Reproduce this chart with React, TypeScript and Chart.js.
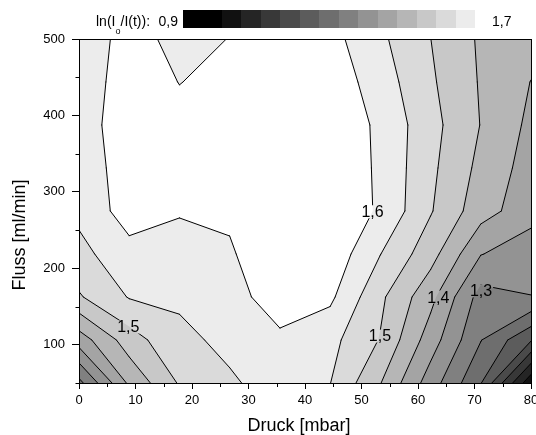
import React, { useEffect, useRef } from 'react';
import { Chart, registerables } from 'chart.js';

Chart.register(...registerables);

const FONT = '"Liberation Sans", Arial, sans-serif';

// measurement grid: pressure (mbar) and flow (ml/min)
const pressure = [0, 8.889, 17.778, 26.667, 35.556, 44.444, 53.333, 62.222, 71.111, 80];
const flow = [50, 106.25, 162.5, 218.75, 275, 331.25, 387.5, 443.75, 500];

// ln(I0/I(t)) for each pressure, one array per flow row
const flow50 = [1.235, 1.41, 1.505, 1.545, 1.566, 1.551, 1.452, 1.325, 1.203, 0.962];
const flow106 = [1.374, 1.476, 1.541, 1.559, 1.59, 1.565, 1.497, 1.375, 1.252, 1.155];
const flow163 = [1.495, 1.553, 1.556, 1.58, 1.626, 1.61, 1.51, 1.415, 1.28, 1.299];
const flow219 = [1.535, 1.583, 1.574, 1.5964, 1.624, 1.635, 1.551, 1.47, 1.352, 1.32];
const flow275 = [1.562, 1.623, 1.605, 1.605, 1.63, 1.634, 1.594, 1.504, 1.4208, 1.37];
const flow331 = [1.575, 1.621, 1.61, 1.62, 1.64, 1.637, 1.592, 1.511, 1.4366, 1.3785];
const flow388 = [1.58, 1.624, 1.607, 1.625, 1.64, 1.638, 1.59, 1.517, 1.4486, 1.3886];
const flow444 = [1.585, 1.613, 1.5995, 1.6066, 1.635, 1.631, 1.575, 1.5074, 1.4457, 1.399];
const flow500 = [1.585, 1.609, 1.593, 1.6005, 1.625, 1.617, 1.5596, 1.5004, 1.443, 1.42];
const rows = [flow50, flow106, flow163, flow219, flow275, flow331, flow388, flow444, flow500];

// colour bands (lower bound of each band) and their greys
const bandLower = [0.85, 0.9, 0.95, 1.0, 1.05, 1.1, 1.15, 1.2, 1.25, 1.3, 1.35, 1.4, 1.45, 1.5, 1.55, 1.6];
const bandColors = ['#000000', '#000000', '#111111', '#252525', '#383838', '#4a4a4a', '#5c5c5c', '#6e6e6e',
  '#808080', '#939393', '#a4a4a4', '#b6b6b6', '#c8c8c8', '#dadada', '#ececec', '#ffffff'];
const lineLevels = [0.95, 1.0, 1.05, 1.1, 1.15, 1.2, 1.25, 1.3, 1.35, 1.4, 1.45, 1.5, 1.55, 1.6];

// contour labels
const labelText = ['1,6', '1,5', '1,4', '1,3', '1,5'];
const labelX = [51.95, 53.27, 63.6, 71.15, 8.73];
const labelY = [274.1, 111.5, 162.5, 170.4, 123.3];

const xTicks = [0, 10, 20, 30, 40, 50, 60, 70, 80];
const yTicks = [100, 200, 300, 400, 500];
const xMinor = [5, 15, 25, 35, 45, 55, 65, 75];
const yMinor = [50, 150, 250, 350, 450];

const colorbarMin = '0,9';
const colorbarMax = '1,7';

type P = [number, number];

function cellPolygon(pts: P[], vals: number[], L: number): P[] {
  const out: P[] = [];
  for (let e = 0; e < 4; e++) {
    const a = pts[e], b = pts[(e + 1) % 4];
    const va = vals[e], vb = vals[(e + 1) % 4];
    if (va >= L) out.push(a);
    if ((va >= L) !== (vb >= L)) {
      const t = (L - va) / (vb - va);
      out.push([a[0] + t * (b[0] - a[0]), a[1] + t * (b[1] - a[1])]);
    }
  }
  return out;
}

function cellSegments(pts: P[], vals: number[], L: number): [P, P][] {
  const c: P[] = [];
  for (let e = 0; e < 4; e++) {
    const a = pts[e], b = pts[(e + 1) % 4];
    const va = vals[e], vb = vals[(e + 1) % 4];
    if ((va >= L) !== (vb >= L)) {
      const t = (L - va) / (vb - va);
      c.push([a[0] + t * (b[0] - a[0]), a[1] + t * (b[1] - a[1])]);
    }
  }
  if (c.length === 2) return [[c[0], c[1]]];
  if (c.length === 4) {
    const center = (vals[0] + vals[1] + vals[2] + vals[3]) / 4;
    if ((center >= L) === (vals[0] >= L)) return [[c[0], c[1]], [c[2], c[3]]];
    return [[c[3], c[0]], [c[1], c[2]]];
  }
  return [];
}

const contourPlugin = {
  id: 'contour',
  beforeDatasetsDraw(chart: any) {
    const { ctx, chartArea: a, scales } = chart;
    const xs = scales.x, ys = scales.y;
    const px = pressure.map((v) => xs.getPixelForValue(v));
    const py = flow.map((v) => ys.getPixelForValue(v));
    let vmin = Infinity, vmax = -Infinity;
    rows.forEach((r) => r.forEach((v) => { vmin = Math.min(vmin, v); vmax = Math.max(vmax, v); }));

    ctx.save();
    ctx.beginPath();
    ctx.rect(a.left, a.top, a.right - a.left, a.bottom - a.top);
    ctx.clip();

    let base = 0;
    for (let k = 0; k < bandLower.length; k++) if (bandLower[k] <= vmin) base = k;
    ctx.fillStyle = bandColors[base];
    ctx.fillRect(a.left, a.top, a.right - a.left, a.bottom - a.top);

    const cell = (i: number, j: number) => {
      const pts: P[] = [[px[i], py[j]], [px[i + 1], py[j]], [px[i + 1], py[j + 1]], [px[i], py[j + 1]]];
      const vals = [rows[j][i], rows[j][i + 1], rows[j + 1][i + 1], rows[j + 1][i]];
      return { pts, vals };
    };

    for (let k = base + 1; k < bandLower.length; k++) {
      const L = bandLower[k];
      if (L > vmax) break;
      ctx.beginPath();
      for (let j = 0; j < flow.length - 1; j++) {
        for (let i = 0; i < pressure.length - 1; i++) {
          const { pts, vals } = cell(i, j);
          const poly = cellPolygon(pts, vals, L);
          if (poly.length < 3) continue;
          ctx.moveTo(poly[0][0], poly[0][1]);
          for (let q = 1; q < poly.length; q++) ctx.lineTo(poly[q][0], poly[q][1]);
          ctx.closePath();
        }
      }
      ctx.fillStyle = bandColors[k];
      ctx.fill('nonzero');
    }

    // label boxes -> gaps in the lines
    ctx.font = `16px ${FONT}`;
    const boxes = labelText.map((t, n) => {
      const w = ctx.measureText(t).width;
      const cx = xs.getPixelForValue(labelX[n]);
      const cy = ys.getPixelForValue(labelY[n]);
      return { t, w, cx, cy };
    });

    ctx.save();
    ctx.beginPath();
    ctx.rect(a.left - 2, a.top - 2, a.right - a.left + 4, a.bottom - a.top + 4);
    boxes.forEach((b) => ctx.rect(b.cx - b.w / 2 - 1, b.cy - 6.5, b.w + 2, 13));
    ctx.clip('evenodd');
    ctx.beginPath();
    for (const L of lineLevels) {
      if (L < vmin || L > vmax) continue;
      for (let j = 0; j < flow.length - 1; j++) {
        for (let i = 0; i < pressure.length - 1; i++) {
          const { pts, vals } = cell(i, j);
          for (const [p, q] of cellSegments(pts, vals, L)) {
            ctx.moveTo(p[0], p[1]);
            ctx.lineTo(q[0], q[1]);
          }
        }
      }
    }
    ctx.strokeStyle = '#000';
    ctx.lineWidth = 1;
    ctx.lineCap = 'round';
    ctx.lineJoin = 'round';
    ctx.stroke();
    ctx.restore();

    ctx.fillStyle = '#000';
    ctx.textAlign = 'center';
    ctx.textBaseline = 'alphabetic';
    boxes.forEach((b) => ctx.fillText(b.t, b.cx, b.cy + 5.5));
    ctx.restore();
  },
  afterDatasetsDraw(chart: any) {
    const { ctx, chartArea: a } = chart;
    ctx.save();
    ctx.strokeStyle = '#000';
    ctx.lineWidth = 1;
    const l = Math.round(a.left) + 0.5, t = Math.round(a.top) + 0.5;
    const r = Math.round(a.right) + 0.5, b = Math.round(a.bottom) + 0.5;
    ctx.strokeRect(l, t, r - l, b - t);
    ctx.restore();
  },
  afterDraw(chart: any) {
    const { ctx, chartArea: a, scales } = chart;
    const xs = scales.x, ys = scales.y;
    ctx.save();
    ctx.strokeStyle = '#000';
    ctx.lineWidth = 1;
    ctx.beginPath();
    const left = Math.round(a.left) + 0.5;
    const bottom = Math.round(a.bottom) + 0.5;
    yMinor.forEach((v) => {
      const p = Math.round(ys.getPixelForValue(v)) + 0.5;
      ctx.moveTo(left - 4, p);
      ctx.lineTo(left, p);
    });
    xMinor.forEach((v) => {
      const p = Math.round(xs.getPixelForValue(v)) + 0.5;
      ctx.moveTo(p, bottom);
      ctx.lineTo(p, bottom + 3.5);
    });
    ctx.stroke();

    // axis titles
    ctx.fillStyle = '#000';
    ctx.font = `18px ${FONT}`;
    ctx.textAlign = 'center';
    ctx.textBaseline = 'alphabetic';
    ctx.fillText('Druck [mbar]', 299, 431);
    ctx.save();
    ctx.translate(25, 235);
    ctx.rotate(-Math.PI / 2);
    ctx.fillText('Fluss [ml/min]', 0, 0);
    ctx.restore();

    // colour scale
    const cbLeft = 183, cbTop = 10, cbH = 18, cbW = 19.47;
    bandColors.forEach((c, k) => {
      ctx.fillStyle = c;
      const x0 = Math.round(cbLeft + k * cbW);
      const x1 = Math.round(cbLeft + (k + 1) * cbW);
      ctx.fillRect(x0, cbTop, x1 - x0, cbH);
    });
    ctx.fillStyle = '#000';
    ctx.font = `14px ${FONT}`;
    ctx.textAlign = 'left';
    ctx.fillText('ln(I', 96, 26);
    ctx.font = `9px ${FONT}`;
    ctx.fillText('o', 115.5, 34);
    ctx.font = `14px ${FONT}`;
    ctx.fillText('/I(t)):', 120.5, 26);
    ctx.textAlign = 'right';
    ctx.fillText(colorbarMin, 178, 26);
    ctx.textAlign = 'left';
    ctx.fillText(colorbarMax, 492, 26);
    ctx.restore();
  },
};

export default function App() {
  const ref = useRef<HTMLCanvasElement>(null);
  useEffect(() => {
    const nodes: { x: number; y: number }[] = [];
    flow.forEach((f) => pressure.forEach((p) => nodes.push({ x: p, y: f })));
    const chart = new Chart(ref.current as HTMLCanvasElement, {
      type: 'scatter',
      data: {
        datasets: [{ label: 'grid', data: nodes, pointRadius: 0, pointHoverRadius: 0, showLine: false }],
      },
      options: {
        responsive: false,
        animation: false,
        devicePixelRatio: 1,
        events: [],
        layout: { padding: { top: 39, right: 5, left: 0, bottom: 0 } },
        plugins: { legend: { display: false }, tooltip: { enabled: false }, title: { display: false } },
        scales: {
          x: {
            type: 'linear',
            min: 0,
            max: 80,
            afterBuildTicks: (s: any) => { s.ticks = xTicks.map((v) => ({ value: v })); },
            afterFit: (s: any) => { s.height = 52; s.paddingLeft = 0; s.paddingRight = 0; },
            grid: { drawOnChartArea: false, drawTicks: true, tickLength: 6, tickColor: '#000', tickWidth: 1 },
            border: { display: true, color: '#000', width: 1 },
            ticks: { color: '#000', font: { family: FONT, size: 13 }, padding: 4, maxRotation: 0, autoSkip: false, callback: (v: any) => String(v) },
          },
          y: {
            type: 'linear',
            min: 50,
            max: 500,
            afterBuildTicks: (s: any) => { s.ticks = yTicks.map((v) => ({ value: v })); },
            afterFit: (s: any) => { s.width = 79; s.paddingTop = 0; s.paddingBottom = 0; },
            grid: { drawOnChartArea: false, drawTicks: true, tickLength: 7, tickColor: '#000', tickWidth: 1 },
            border: { display: true, color: '#000', width: 1 },
            ticks: { color: '#000', font: { family: FONT, size: 13 }, padding: 7, autoSkip: false, callback: (v: any) => String(v) },
          },
        },
      },
      plugins: [contourPlugin],
    } as any);
    return () => chart.destroy();
  }, []);
  return (
    <div style={{ position: 'absolute', left: 0, top: 0, width: 536, height: 435 }}>
      <canvas ref={ref} width={536} height={435} style={{ display: 'block', width: 536, height: 435 }} />
    </div>
  );
}
